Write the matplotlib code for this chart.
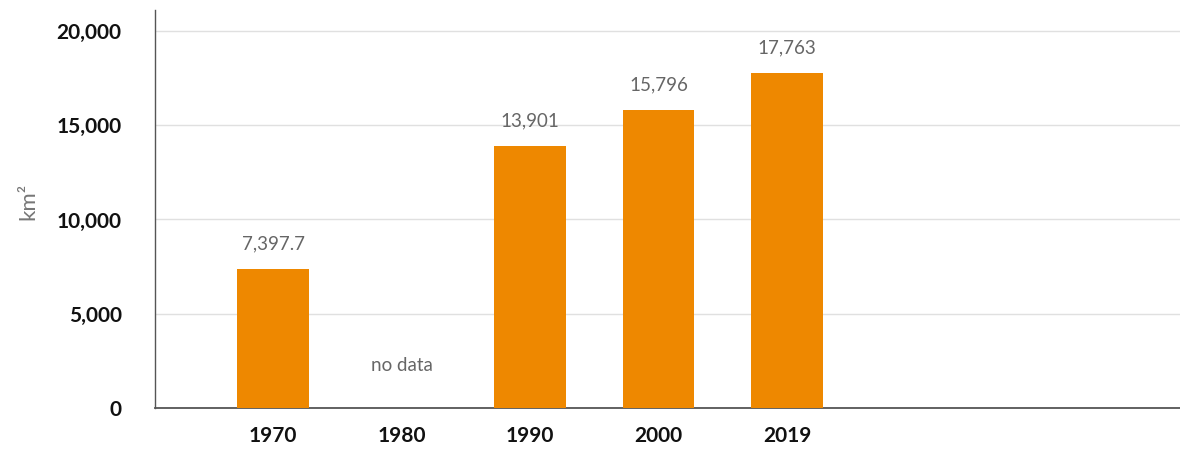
import matplotlib
matplotlib.use("Agg")
import matplotlib.pyplot as plt

years = ["1970", "1980", "1990", "2000", "2019"]
values = [7397.7, None, 13901, 15796, 17763]
labels = ["7,397.7", "no data", "13,901", "15,796", "17,763"]
yticks = [0, 5000, 10000, 15000, 20000]
ytick_labels = ["0", "5,000", "10,000", "15,000", "20,000"]

fig = plt.figure(figsize=(11.8, 4.51), dpi=100)
ax = fig.add_axes([155/1180, 43/451, 1 - 155/1180, (408-10)/451])

x = list(range(len(years)))
for xi, v, lab in zip(x, values, labels):
    if v is None:
        ax.text(xi, 2280, lab, ha="center", va="center", fontsize=13.5,
                family="Lato", fontweight="normal", color="#666666")
    else:
        ax.bar(xi, v, width=0.56, color="#EE8800", zorder=3)
        ax.annotate(lab, (xi, v), xytext=(0, 18), textcoords="offset points",
                    ha="center", va="center", fontsize=13.5, family="Lato",
                    fontweight="normal", color="#666666")

ax.set_xlim(-0.92, 7.06)
ax.set_ylim(0, 21114)
ax.set_yticks(yticks)
ax.set_yticklabels(ytick_labels, family="Lato", fontweight="bold", fontsize=15, color="#111111")
ax.set_xticks(x)
ax.set_xticklabels(years, family="Lato", fontweight="bold", fontsize=15, color="#111111")
ax.tick_params(axis="both", length=0)
ax.tick_params(axis="y", pad=24)
ax.tick_params(axis="x", pad=13)
ax.grid(axis="y", color="#e0e0e0", linewidth=1, zorder=0)
ax.set_axisbelow(True)
for s in ["top", "right"]:
    ax.spines[s].set_visible(False)
ax.spines["left"].set_color("#555555")
ax.spines["bottom"].set_color("#555555")
ax.spines["left"].set_linewidth(1)
ax.spines["bottom"].set_linewidth(1.3)
ax.set_ylabel("km²", family="Lato", fontweight="normal", fontsize=16, color="#777777")
ax.yaxis.set_label_coords(-117/1025, 0.52)

fig.savefig("out.png", dpi=100)
